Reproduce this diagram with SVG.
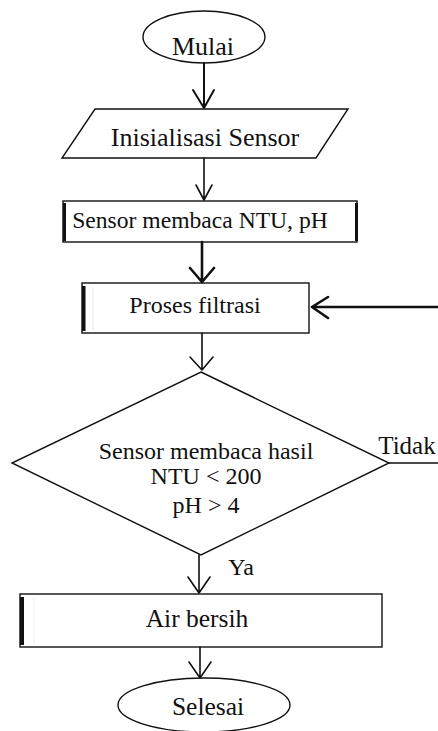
<svg xmlns="http://www.w3.org/2000/svg" width="438" height="731" viewBox="0 0 438 731">
<style>
text{font-family:"Liberation Serif","Times New Roman",serif;fill:#111;text-anchor:middle}
.s{fill:#fff;stroke:#111;stroke-width:1.4}
.bar{fill:#111}
.c{fill:none;stroke:#111;stroke-linecap:round;stroke-linejoin:round}
</style>
<rect width="438" height="731" fill="#fff"/>
<g id="mulai">
<ellipse class="s" cx="204" cy="37" rx="61" ry="26"/>
<text x="203" y="55" font-size="26">Mulai</text>
</g>
<g id="inisialisasi">
<polygon class="s" points="95,109 348,109 316,158 62,158"/>
<text x="205" y="146" font-size="26">Inisialisasi Sensor</text>
</g>
<g id="sensor-baca">
<rect class="s" x="63" y="201" width="294" height="41"/>
<rect class="bar" x="63" y="203" width="3" height="38"/>
<rect class="bar" x="355" y="203" width="3" height="38"/>
<text x="200" y="228" font-size="23.6">Sensor membaca NTU, pH</text>
</g>
<g id="proses">
<rect class="s" x="82" y="283" width="227" height="50"/>
<rect class="bar" x="82" y="286" width="3.5" height="45"/>
<line x1="93" y1="287" x2="93" y2="330" stroke="#e6e6e6" stroke-width="1"/>
<text x="195" y="313" font-size="24">Proses filtrasi</text>
</g>
<g id="keputusan">
<polygon class="s" points="201,372 389,463 201,555 12,463"/>
<text x="206" y="459" font-size="24">Sensor membaca hasil</text>
<text x="206" y="484" font-size="24">NTU &lt; 200</text>
<text x="206" y="513" font-size="24">pH &gt; 4</text>
</g>
<g id="air-bersih">
<rect class="s" x="20" y="594" width="362" height="53"/>
<rect class="bar" x="20" y="597" width="4" height="48"/>
<line x1="34" y1="598" x2="34" y2="643" stroke="#eeeeee" stroke-width="1"/>
<text x="197" y="627" font-size="25.5">Air bersih</text>
</g>
<g id="selesai">
<ellipse class="s" cx="204" cy="705" rx="86" ry="27"/>
<text x="208" y="715" font-size="25.5">Selesai</text>
</g>
<g id="connectors">
<path class="c" stroke-width="2" d="M204,63 V108 M193,90 L204,108 L214,90"/>
<path class="c" stroke-width="1.6" d="M204,158 V200 M196,185 L204,200 L212,185"/>
<path class="c" stroke-width="2.6" d="M202,242 V282 M190,268 L202,282 L214,268"/>
<path class="c" stroke-width="2.6" d="M438,307 H312 M328,297 L312,307 L328,318"/>
<path class="c" stroke-width="1.6" d="M202,333 V370 M190,357 L202,370 L213,357"/>
<path class="c" stroke-width="1.6" d="M389,463 H438"/>
<text x="407" y="454" font-size="25">Tidak</text>
<path class="c" stroke-width="1.6" d="M199,555 V593 M188,577 L199,593 L210,577"/>
<text x="241" y="575" font-size="24">Ya</text>
<path class="c" stroke-width="1.6" d="M200,647 V678 M189,662 L200,678 L211,662"/>
</g>
</svg>
